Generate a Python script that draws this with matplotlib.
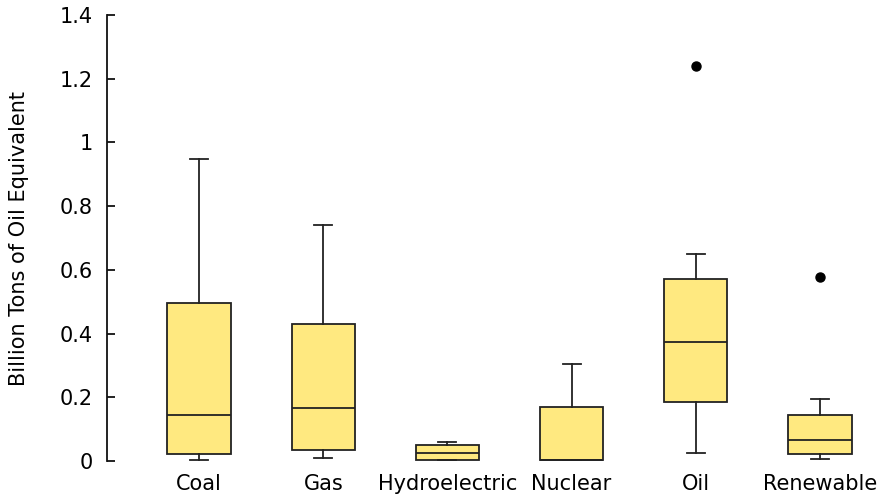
import matplotlib
matplotlib.use("Agg")
import matplotlib.pyplot as plt

# energy sources, box stats (billion toe)
sources = ["Coal", "Gas", "Hydroelectric", "Nuclear", "Oil", "Renewable"]
whislo = [0.003, 0.009, 0.002, 0.001, 0.026, 0.006]
q1 = [0.022, 0.035, 0.003, 0.002, 0.185, 0.021]
med = [0.144, 0.166, 0.024, 0.003, 0.374, 0.066]
q3 = [0.496, 0.430, 0.050, 0.169, 0.571, 0.144]
whishi = [0.948, 0.741, 0.061, 0.304, 0.650, 0.195]
fliers = [[], [], [], [], [1.240], [0.578]]

yticks = [0, 0.2, 0.4, 0.6, 0.8, 1, 1.2, 1.4]
ytick_labels = ["0", "0.2", "0.4", "0.6", "0.8", "1", "1.2", "1.4"]

stats = []
for i, name in enumerate(sources):
    stats.append(dict(label=name, whislo=whislo[i], q1=q1[i], med=med[i],
                      q3=q3[i], whishi=whishi[i], fliers=fliers[i]))

plt.rcParams['font.family'] = 'DejaVu Sans'
plt.rcParams['font.size'] = 15

fig = plt.figure(figsize=(8.81, 4.94), dpi=100)
ax = fig.add_axes([107 / 881, 1 - 461 / 494, 1 - 107 / 881, 446 / 494])

edge = "#222222"
ax.bxp(stats, widths=0.51, patch_artist=True, showfliers=True,
       boxprops=dict(facecolor="#ffe980", edgecolor=edge, linewidth=1.3),
       medianprops=dict(color=edge, linewidth=1.3),
       whiskerprops=dict(color=edge, linewidth=1.3),
       capprops=dict(color=edge, linewidth=1.3),
       capwidths=0.145,
       flierprops=dict(marker="o", markerfacecolor="black",
                       markeredgecolor="black", markersize=6.5))

ax.set_ylim(0, 1.4)
ax.set_xlim(1 - 92 / 124, 6 + 61 / 124)
ax.set_yticks(yticks)
ax.set_yticklabels(ytick_labels)
ax.set_ylabel("Billion Tons of Oil Equivalent", labelpad=22)

for s in ["top", "right", "bottom"]:
    ax.spines[s].set_visible(False)
ax.spines["left"].set_color("#111111")
ax.spines["left"].set_linewidth(1.3)
ax.tick_params(axis="y", direction="in", length=6, width=1.3, pad=10, color="#111111")
ax.tick_params(axis="x", length=0, pad=9)

fig.savefig("out.png", dpi=100)
